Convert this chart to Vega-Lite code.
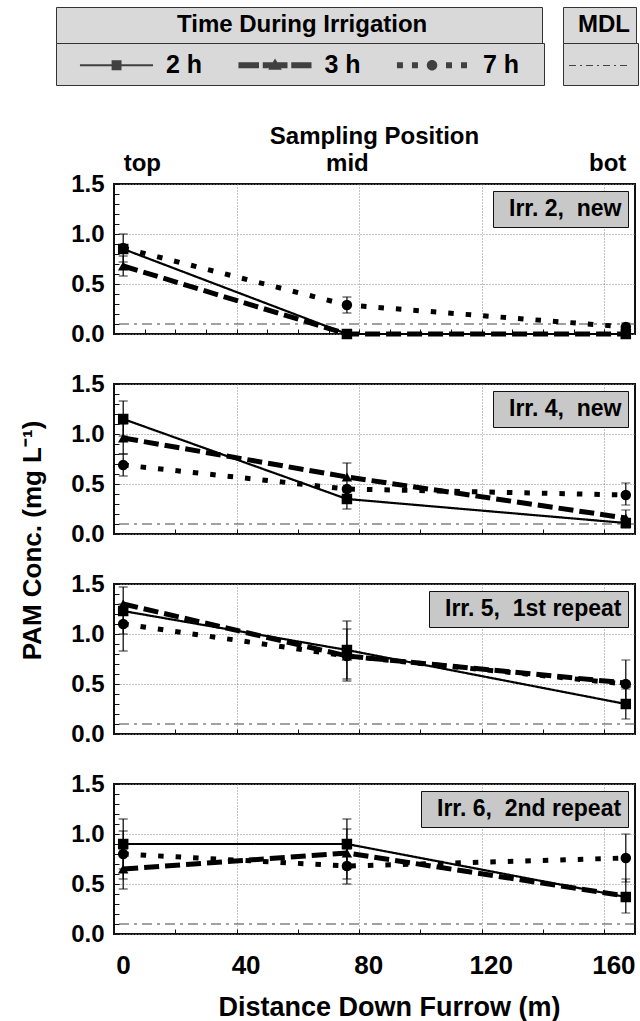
{
  "$schema": "https://vega.github.io/schema/vega-lite/v6.json",
  "padding": {"left": 18, "top": 5, "right": 0, "bottom": 0},
  "config": {
    "font": "Liberation Sans",
    "view": {"stroke": "#111", "strokeWidth": 2},
    "axis": {"labelColor": "#000", "titleColor": "#000", "tickColor": "#111", "labelOverlap": false}
  },
  "datasets": {
    "points": [
      {"irr": "Irr. 2, new", "series": "2 h", "pos": 3, "conc": 0.85},
      {"irr": "Irr. 2, new", "series": "2 h", "pos": 76, "conc": 0.0},
      {"irr": "Irr. 2, new", "series": "2 h", "pos": 167, "conc": 0.0},
      {"irr": "Irr. 2, new", "series": "3 h", "pos": 3, "conc": 0.68},
      {"irr": "Irr. 2, new", "series": "3 h", "pos": 76, "conc": 0.0},
      {"irr": "Irr. 2, new", "series": "3 h", "pos": 167, "conc": 0.0},
      {"irr": "Irr. 2, new", "series": "7 h", "pos": 3, "conc": 0.86},
      {"irr": "Irr. 2, new", "series": "7 h", "pos": 76, "conc": 0.29},
      {"irr": "Irr. 2, new", "series": "7 h", "pos": 167, "conc": 0.07},
      {"irr": "Irr. 4, new", "series": "2 h", "pos": 3, "conc": 1.15},
      {"irr": "Irr. 4, new", "series": "2 h", "pos": 76, "conc": 0.35},
      {"irr": "Irr. 4, new", "series": "2 h", "pos": 167, "conc": 0.11},
      {"irr": "Irr. 4, new", "series": "3 h", "pos": 3, "conc": 0.96},
      {"irr": "Irr. 4, new", "series": "3 h", "pos": 76, "conc": 0.57},
      {"irr": "Irr. 4, new", "series": "3 h", "pos": 167, "conc": 0.16},
      {"irr": "Irr. 4, new", "series": "7 h", "pos": 3, "conc": 0.69},
      {"irr": "Irr. 4, new", "series": "7 h", "pos": 76, "conc": 0.45},
      {"irr": "Irr. 4, new", "series": "7 h", "pos": 167, "conc": 0.39},
      {"irr": "Irr. 5, 1st repeat", "series": "2 h", "pos": 3, "conc": 1.23},
      {"irr": "Irr. 5, 1st repeat", "series": "2 h", "pos": 76, "conc": 0.84},
      {"irr": "Irr. 5, 1st repeat", "series": "2 h", "pos": 167, "conc": 0.30},
      {"irr": "Irr. 5, 1st repeat", "series": "3 h", "pos": 3, "conc": 1.30},
      {"irr": "Irr. 5, 1st repeat", "series": "3 h", "pos": 76, "conc": 0.78},
      {"irr": "Irr. 5, 1st repeat", "series": "3 h", "pos": 167, "conc": 0.51},
      {"irr": "Irr. 5, 1st repeat", "series": "7 h", "pos": 3, "conc": 1.10},
      {"irr": "Irr. 5, 1st repeat", "series": "7 h", "pos": 76, "conc": 0.78},
      {"irr": "Irr. 5, 1st repeat", "series": "7 h", "pos": 167, "conc": 0.50},
      {"irr": "Irr. 6, 2nd repeat", "series": "2 h", "pos": 3, "conc": 0.90},
      {"irr": "Irr. 6, 2nd repeat", "series": "2 h", "pos": 76, "conc": 0.90},
      {"irr": "Irr. 6, 2nd repeat", "series": "2 h", "pos": 167, "conc": 0.37},
      {"irr": "Irr. 6, 2nd repeat", "series": "3 h", "pos": 3, "conc": 0.65},
      {"irr": "Irr. 6, 2nd repeat", "series": "3 h", "pos": 76, "conc": 0.81},
      {"irr": "Irr. 6, 2nd repeat", "series": "3 h", "pos": 167, "conc": 0.38},
      {"irr": "Irr. 6, 2nd repeat", "series": "7 h", "pos": 3, "conc": 0.80},
      {"irr": "Irr. 6, 2nd repeat", "series": "7 h", "pos": 76, "conc": 0.68},
      {"irr": "Irr. 6, 2nd repeat", "series": "7 h", "pos": 167, "conc": 0.76}
    ],
    "errs": [
      {"irr": "Irr. 2, new", "series": "2 h", "pos": 3, "lo": 0.72, "hi": 1.0},
      {"irr": "Irr. 2, new", "series": "3 h", "pos": 3, "lo": 0.58, "hi": 0.78},
      {"irr": "Irr. 2, new", "series": "7 h", "pos": 76, "lo": 0.21, "hi": 0.37},
      {"irr": "Irr. 2, new", "series": "7 h", "pos": 167, "lo": 0.03, "hi": 0.11},
      {"irr": "Irr. 4, new", "series": "2 h", "pos": 3, "lo": 0.98, "hi": 1.33},
      {"irr": "Irr. 4, new", "series": "3 h", "pos": 3, "lo": 0.80, "hi": 1.10},
      {"irr": "Irr. 4, new", "series": "7 h", "pos": 3, "lo": 0.58, "hi": 0.80},
      {"irr": "Irr. 4, new", "series": "3 h", "pos": 76, "lo": 0.42, "hi": 0.71},
      {"irr": "Irr. 4, new", "series": "2 h", "pos": 76, "lo": 0.25, "hi": 0.45},
      {"irr": "Irr. 4, new", "series": "7 h", "pos": 167, "lo": 0.29, "hi": 0.51},
      {"irr": "Irr. 4, new", "series": "3 h", "pos": 167, "lo": 0.06, "hi": 0.24},
      {"irr": "Irr. 5, 1st repeat", "series": "2 h", "pos": 3, "lo": 1.0, "hi": 1.47},
      {"irr": "Irr. 5, 1st repeat", "series": "7 h", "pos": 3, "lo": 0.83, "hi": 1.30},
      {"irr": "Irr. 5, 1st repeat", "series": "2 h", "pos": 76, "lo": 0.55, "hi": 1.13},
      {"irr": "Irr. 5, 1st repeat", "series": "3 h", "pos": 76, "lo": 0.53, "hi": 1.05},
      {"irr": "Irr. 5, 1st repeat", "series": "7 h", "pos": 167, "lo": 0.28, "hi": 0.74},
      {"irr": "Irr. 5, 1st repeat", "series": "2 h", "pos": 167, "lo": 0.15, "hi": 0.45},
      {"irr": "Irr. 6, 2nd repeat", "series": "2 h", "pos": 3, "lo": 0.65, "hi": 1.15},
      {"irr": "Irr. 6, 2nd repeat", "series": "7 h", "pos": 3, "lo": 0.55, "hi": 1.03},
      {"irr": "Irr. 6, 2nd repeat", "series": "3 h", "pos": 3, "lo": 0.45, "hi": 0.85},
      {"irr": "Irr. 6, 2nd repeat", "series": "2 h", "pos": 76, "lo": 0.65, "hi": 1.15},
      {"irr": "Irr. 6, 2nd repeat", "series": "3 h", "pos": 76, "lo": 0.55, "hi": 1.05},
      {"irr": "Irr. 6, 2nd repeat", "series": "7 h", "pos": 76, "lo": 0.50, "hi": 0.85},
      {"irr": "Irr. 6, 2nd repeat", "series": "7 h", "pos": 167, "lo": 0.52, "hi": 1.0},
      {"irr": "Irr. 6, 2nd repeat", "series": "2 h", "pos": 167, "lo": 0.21, "hi": 0.55}
    ],
    "mdl": [{"label": "MDL", "mdl": 0.1}],
    "panels": [
      {"irr": "Irr. 2, new"},
      {"irr": "Irr. 4, new"},
      {"irr": "Irr. 5, 1st repeat"},
      {"irr": "Irr. 6, 2nd repeat"}
    ]
  },
  "bounds": "flush",
  "spacing": 50,
  "resolve": {"scale": {"color": "independent", "fill": "independent", "shape": "independent", "stroke": "independent", "strokeDash": "independent"}},
  "vconcat": [
    {
      "width": 521, "height": 150,
      "resolve": {"axis": {"x": "independent", "y": "independent"}},
      "layer": [
        {
          "data": {"name": "mdl"},
          "mark": {"type": "rule", "strokeDash": [10, 5, 3, 5], "strokeWidth": 1.2},
          "encoding": {
            "y": {"field": "mdl", "type": "quantitative", "axis": null, "scale": {"domain": [0, 1.5], "nice": false}},
            "color": {"field": "label", "type": "nominal", "scale": {"range": ["#444"]},
              "legend": {"orient": "none", "legendX": 449, "legendY": -141, "title": null,
                "labelExpr": "''", "labelOffset": 30, "labelFontSize": 25,
                "symbolType": "M-1.1,0H2.77", "symbolSize": 900, "symbolDash": [7, 4, 2, 4], "symbolStrokeWidth": 1.2,
                "symbolStrokeColor": "#444", "fillColor": "#d9d9d9", "strokeColor": "#333", "padding": 6.5}}
          }
        },
        {
          "data": {"name": "points"},
          "transform": [{"filter": "datum.irr === 'Irr. 2, new'"}],
          "mark": {"type": "line", "color": "#000"},
          "encoding": {
            "x": {"field": "pos", "type": "quantitative", "scale": {"domain": [0, 170], "nice": false},
              "axis": {"values": [0,10,20,30,40,50,60,70,80,90,100,110,120,130,140,150,160,170], "labels": false, "title": null,
                "tickSize": -5, "domain": false, "grid": true, "gridColor": "#888", "gridDash": [1, 2],
                "gridOpacity": {"condition": {"test": "datum.value % 40 === 0 && datum.value > 0 && datum.value < 170", "value": 1}, "value": 0}}},
            "y": {"field": "conc", "type": "quantitative", "scale": {"domain": [0, 1.5], "nice": false},
              "axis": {"orient": "left", "tickCount": 3, "format": ".1f",
                "labelFontSize": 24, "labelFontWeight": "bold", "labelPadding": 15, "labelFlush": false,
                "tickSize": -5, "domain": false, "grid": true, "gridColor": "#888", "gridDash": [1, 2], "title": null}},
            "detail": {"field": "series"},
            "strokeDash": {"condition": [{"test": "datum.series === '2 h'", "value": [1, 0]}, {"test": "datum.series === '3 h'", "value": [15, 6]}], "value": [5.5, 12]},
            "strokeWidth": {"condition": {"test": "datum.series === '2 h'", "value": 2.2}, "value": 5}
          }
        },
        {
          "data": {"name": "errs"},
          "transform": [{"filter": "datum.irr === 'Irr. 2, new'"}],
          "mark": {"type": "errorbar", "color": "#000", "thickness": 1.2, "size": 9, "ticks": true},
          "encoding": {
            "x": {"field": "pos", "type": "quantitative", "scale": {"domain": [0, 170], "nice": false}, "axis": null},
            "y": {"field": "lo", "type": "quantitative", "axis": null, "scale": {"domain": [0, 1.5], "nice": false}},
            "y2": {"field": "hi"}
          }
        },
        {
          "data": {"name": "points"},
          "transform": [{"filter": "datum.irr === 'Irr. 2, new'"}],
          "mark": {"type": "point", "filled": true, "opacity": 1, "size": 110, "color": "#000"},
          "encoding": {
            "x": {"field": "pos", "type": "quantitative", "scale": {"domain": [0, 170], "nice": false}, "axis": null},
            "y": {"field": "conc", "type": "quantitative", "scale": {"domain": [0, 1.5], "nice": false},
              "axis": {"orient": "left", "tickCount": 15, "labels": false, "grid": false, "tickSize": -5, "domain": false, "title": null}},
            "order": {"field": "series", "sort": "descending"},
            "shape": {"condition": [{"test": "datum.series === '2 h'", "value": "square"}, {"test": "datum.series === '3 h'", "value": "triangle-up"}], "value": "circle"}
          }
        },
        {
          "data": {"name": "panels"},
          "transform": [{"filter": "datum.irr === 'Irr. 2, new'"}],
          "mark": {"type": "point", "opacity": 0},
          "encoding": {
            "fill": {"field": "irr", "type": "nominal",
              "legend": {"orient": "top-right", "offset": 7, "title": null, "fillColor": "#c8c8c8", "strokeColor": "#111", "padding": 6,
                "labelFontSize": 23, "labelFontWeight": "bold", "labelColor": "#000", "labelOffset": -13, "labelLimit": 400,
                "labelExpr": "replace(datum.label, ', ', ',\u00a0 ')",
                "symbolSize": 1, "symbolOpacity": 0, "symbolStrokeWidth": 0}}
          }
        },
        {
          "data": {"name": "points"},
          "transform": [{"filter": "false"}],
          "mark": {"type": "point", "color": "transparent"},
          "encoding": {
            "stroke": {"field": "hdr", "type": "nominal", "scale": {"domain": ["Time During Irrigation"], "range": ["transparent"]},
              "legend": {"orient": "none", "legendX": -58, "legendY": -177, "title": null,
                "labelFontSize": 24, "labelFontWeight": "bold", "labelColor": "#000", "labelOffset": 91, "labelLimit": 700,
                "labelExpr": "datum.label + '\u2800\u2800\u2800\u2800\u2800\u2800'",
                "symbolSize": 1, "symbolOpacity": 0, "symbolStrokeWidth": 0,
                "fillColor": "#d9d9d9", "strokeColor": "#333", "padding": 6}}
          }
        },
        {
          "data": {"name": "points"},
          "transform": [{"filter": "false"}],
          "mark": {"type": "point", "color": "transparent"},
          "encoding": {
            "strokeDash": {"field": "hdr2", "type": "nominal", "scale": {"domain": ["MDL"], "range": [[1, 0]]},
              "legend": {"orient": "none", "legendX": 449, "legendY": -177, "title": null,
                "labelFontSize": 24, "labelFontWeight": "bold", "labelColor": "#000", "labelOffset": -15, "labelLimit": 300,
                "symbolSize": 1, "symbolOpacity": 0, "symbolStrokeWidth": 0,
                "fillColor": "#d9d9d9", "strokeColor": "#333", "padding": 6}}
          }
        },
        {
          "data": {"name": "points"},
          "transform": [{"filter": "false"}],
          "mark": {"type": "point", "filled": true, "color": "#000"},
          "encoding": {
            "x": {"field": "pos", "type": "quantitative", "scale": {"domain": [0, 170], "nice": false},
              "axis": {"orient": "top", "values": [3, 76, 167], "labelExpr": "datum.value < 10 ? 'top' : (datum.value < 100 ? 'mid' : 'bot')",
                "labelFlush": 15, "labelFontSize": 24, "labelFontWeight": "bold", "labelPadding": 9, "ticks": false, "domain": false, "grid": false,
                "title": "Sampling Position", "titleFontSize": 24, "titleFontWeight": "bold", "titleX": 260, "titleY": -41, "titleBaseline": "alphabetic"}},
            "y": {"field": "conc", "type": "quantitative", "axis": null, "scale": {"domain": [0, 1.5], "nice": false}},
            "shape": {"field": "series", "type": "nominal",
              "scale": {"domain": ["2 h", "3 h", "7 h"], "range": [
                "M0.13,-0.07H5V0.07H0.13Z M2.24,-0.33H2.9V0.33H2.24Z",
                "M0.13,-0.2H1.5V0.2H0.13Z M1.75,-0.2H3.4V0.2H1.75Z M3.65,-0.2H5V0.2H3.65Z M2.57,-0.45L3.02,0.3H2.12Z",
                "M0.13,-0.2H0.53V0.2H0.13Z M1.13,-0.2H1.53V0.2H1.13Z M3.4,-0.2H3.8V0.2H3.4Z M4.4,-0.2H4.8V0.2H4.4Z M2.12,0A0.35,0.35 0 1,1 2.82,0A0.35,0.35 0 1,1 2.12,0Z"]},
              "legend": {"orient": "none", "legendX": -58, "legendY": -141, "title": null,
                "direction": "horizontal", "columns": 3, "columnPadding": 18.5,
                "labelFontSize": 25, "labelFontWeight": "bold", "labelColor": "#000", "labelOffset": 72.5,
                "labelExpr": "datum.label === '7 h' ? datum.label + '\u2800' : datum.label",
                "symbolSize": 900, "symbolFillColor": "#000", "symbolStrokeColor": "#000", "symbolStrokeWidth": 1,
                "fillColor": "#d9d9d9", "strokeColor": "#333", "padding": 6.5}}
          }
        }
      ]
    },
    {
      "width": 521, "height": 150,
      "resolve": {"axis": {"y": "independent"}},
      "layer": [
        {
          "data": {"name": "mdl"},
          "mark": {"type": "rule", "strokeDash": [10, 5, 3, 5], "strokeWidth": 1.2},
          "encoding": {
            "y": {"field": "mdl", "type": "quantitative", "axis": null, "scale": {"domain": [0, 1.5], "nice": false}},
            "color": {"field": "label", "type": "nominal", "scale": {"range": ["#444"]}, "legend": null}
          }
        },
        {
          "data": {"name": "points"},
          "transform": [{"filter": "datum.irr === 'Irr. 4, new'"}],
          "mark": {"type": "line", "color": "#000"},
          "encoding": {
            "x": {"field": "pos", "type": "quantitative", "scale": {"domain": [0, 170], "nice": false},
              "axis": {"values": [0,10,20,30,40,50,60,70,80,90,100,110,120,130,140,150,160,170], "labels": false, "title": null,
                "tickSize": -5, "domain": false, "grid": true, "gridColor": "#888", "gridDash": [1, 2],
                "gridOpacity": {"condition": {"test": "datum.value % 40 === 0 && datum.value > 0 && datum.value < 170", "value": 1}, "value": 0}}},
            "y": {"field": "conc", "type": "quantitative", "scale": {"domain": [0, 1.5], "nice": false},
              "axis": {"orient": "left", "tickCount": 3, "format": ".1f",
                "labelFontSize": 24, "labelFontWeight": "bold", "labelPadding": 15, "labelFlush": false,
                "tickSize": -5, "domain": false, "grid": true, "gridColor": "#888", "gridDash": [1, 2],
                "title": "PAM Conc. (mg L⁻¹)", "titleFontSize": 26, "titleFontWeight": "bold", "titleX": -74, "titleY": 156,
                "titleAngle": -90, "titleBaseline": "alphabetic", "titleAlign": "center"}},
            "detail": {"field": "series"},
            "strokeDash": {"condition": [{"test": "datum.series === '2 h'", "value": [1, 0]}, {"test": "datum.series === '3 h'", "value": [15, 6]}], "value": [5.5, 12]},
            "strokeWidth": {"condition": {"test": "datum.series === '2 h'", "value": 2.2}, "value": 5}
          }
        },
        {
          "data": {"name": "errs"},
          "transform": [{"filter": "datum.irr === 'Irr. 4, new'"}],
          "mark": {"type": "errorbar", "color": "#000", "thickness": 1.2, "size": 9, "ticks": true},
          "encoding": {
            "x": {"field": "pos", "type": "quantitative", "title": null, "scale": {"domain": [0, 170], "nice": false}},
            "y": {"field": "lo", "type": "quantitative", "axis": null, "scale": {"domain": [0, 1.5], "nice": false}},
            "y2": {"field": "hi"}
          }
        },
        {
          "data": {"name": "points"},
          "transform": [{"filter": "datum.irr === 'Irr. 4, new'"}],
          "mark": {"type": "point", "filled": true, "opacity": 1, "size": 110, "color": "#000"},
          "encoding": {
            "x": {"field": "pos", "type": "quantitative", "title": null, "scale": {"domain": [0, 170], "nice": false}},
            "y": {"field": "conc", "type": "quantitative", "scale": {"domain": [0, 1.5], "nice": false},
              "axis": {"orient": "left", "tickCount": 15, "labels": false, "grid": false, "tickSize": -5, "domain": false, "title": null}},
            "order": {"field": "series", "sort": "descending"},
            "shape": {"condition": [{"test": "datum.series === '2 h'", "value": "square"}, {"test": "datum.series === '3 h'", "value": "triangle-up"}], "value": "circle"}
          }
        },
        {
          "data": {"name": "panels"},
          "transform": [{"filter": "datum.irr === 'Irr. 4, new'"}],
          "mark": {"type": "point", "opacity": 0},
          "encoding": {
            "fill": {"field": "irr", "type": "nominal",
              "legend": {"orient": "top-right", "offset": 7, "title": null, "fillColor": "#c8c8c8", "strokeColor": "#111", "padding": 6,
                "labelFontSize": 23, "labelFontWeight": "bold", "labelColor": "#000", "labelOffset": -13, "labelLimit": 400,
                "labelExpr": "replace(datum.label, ', ', ',\u00a0 ')",
                "symbolSize": 1, "symbolOpacity": 0, "symbolStrokeWidth": 0}}
          }
        }
      ]
    },
    {
      "width": 521, "height": 150,
      "resolve": {"axis": {"y": "independent"}},
      "layer": [
        {
          "data": {"name": "mdl"},
          "mark": {"type": "rule", "strokeDash": [10, 5, 3, 5], "strokeWidth": 1.2},
          "encoding": {
            "y": {"field": "mdl", "type": "quantitative", "axis": null, "scale": {"domain": [0, 1.5], "nice": false}},
            "color": {"field": "label", "type": "nominal", "scale": {"range": ["#444"]}, "legend": null}
          }
        },
        {
          "data": {"name": "points"},
          "transform": [{"filter": "datum.irr === 'Irr. 5, 1st repeat'"}],
          "mark": {"type": "line", "color": "#000"},
          "encoding": {
            "x": {"field": "pos", "type": "quantitative", "scale": {"domain": [0, 170], "nice": false},
              "axis": {"values": [0,10,20,30,40,50,60,70,80,90,100,110,120,130,140,150,160,170], "labels": false, "title": null,
                "tickSize": -5, "domain": false, "grid": true, "gridColor": "#888", "gridDash": [1, 2],
                "gridOpacity": {"condition": {"test": "datum.value % 40 === 0 && datum.value > 0 && datum.value < 170", "value": 1}, "value": 0}}},
            "y": {"field": "conc", "type": "quantitative", "scale": {"domain": [0, 1.5], "nice": false},
              "axis": {"orient": "left", "tickCount": 3, "format": ".1f",
                "labelFontSize": 24, "labelFontWeight": "bold", "labelPadding": 15, "labelFlush": false,
                "tickSize": -5, "domain": false, "grid": true, "gridColor": "#888", "gridDash": [1, 2], "title": null}},
            "detail": {"field": "series"},
            "strokeDash": {"condition": [{"test": "datum.series === '2 h'", "value": [1, 0]}, {"test": "datum.series === '3 h'", "value": [15, 6]}], "value": [5.5, 12]},
            "strokeWidth": {"condition": {"test": "datum.series === '2 h'", "value": 2.2}, "value": 5}
          }
        },
        {
          "data": {"name": "errs"},
          "transform": [{"filter": "datum.irr === 'Irr. 5, 1st repeat'"}],
          "mark": {"type": "errorbar", "color": "#000", "thickness": 1.2, "size": 9, "ticks": true},
          "encoding": {
            "x": {"field": "pos", "type": "quantitative", "title": null, "scale": {"domain": [0, 170], "nice": false}},
            "y": {"field": "lo", "type": "quantitative", "axis": null, "scale": {"domain": [0, 1.5], "nice": false}},
            "y2": {"field": "hi"}
          }
        },
        {
          "data": {"name": "points"},
          "transform": [{"filter": "datum.irr === 'Irr. 5, 1st repeat'"}],
          "mark": {"type": "point", "filled": true, "opacity": 1, "size": 110, "color": "#000"},
          "encoding": {
            "x": {"field": "pos", "type": "quantitative", "title": null, "scale": {"domain": [0, 170], "nice": false}},
            "y": {"field": "conc", "type": "quantitative", "scale": {"domain": [0, 1.5], "nice": false},
              "axis": {"orient": "left", "tickCount": 15, "labels": false, "grid": false, "tickSize": -5, "domain": false, "title": null}},
            "order": {"field": "series", "sort": "descending"},
            "shape": {"condition": [{"test": "datum.series === '2 h'", "value": "square"}, {"test": "datum.series === '3 h'", "value": "triangle-up"}], "value": "circle"}
          }
        },
        {
          "data": {"name": "panels"},
          "transform": [{"filter": "datum.irr === 'Irr. 5, 1st repeat'"}],
          "mark": {"type": "point", "opacity": 0},
          "encoding": {
            "fill": {"field": "irr", "type": "nominal",
              "legend": {"orient": "top-right", "offset": 7, "title": null, "fillColor": "#c8c8c8", "strokeColor": "#111", "padding": 6,
                "labelFontSize": 23, "labelFontWeight": "bold", "labelColor": "#000", "labelOffset": -13, "labelLimit": 400,
                "labelExpr": "replace(datum.label, ', ', ',\u00a0 ')",
                "symbolSize": 1, "symbolOpacity": 0, "symbolStrokeWidth": 0}}
          }
        }
      ]
    },
    {
      "width": 521, "height": 150,
      "resolve": {"axis": {"y": "independent"}},
      "layer": [
        {
          "data": {"name": "mdl"},
          "mark": {"type": "rule", "strokeDash": [10, 5, 3, 5], "strokeWidth": 1.2},
          "encoding": {
            "y": {"field": "mdl", "type": "quantitative", "axis": null, "scale": {"domain": [0, 1.5], "nice": false}},
            "color": {"field": "label", "type": "nominal", "scale": {"range": ["#444"]}, "legend": null}
          }
        },
        {
          "data": {"name": "points"},
          "transform": [{"filter": "datum.irr === 'Irr. 6, 2nd repeat'"}],
          "mark": {"type": "line", "color": "#000"},
          "encoding": {
            "x": {"field": "pos", "type": "quantitative", "title": "Distance Down Furrow (m)", "scale": {"domain": [0, 170], "nice": false},
              "axis": {"values": [0,10,20,30,40,50,60,70,80,90,100,110,120,130,140,150,160,170],
                "labelExpr": "datum.value % 40 === 0 && datum.value <= 160 ? datum.label : ''",
                "labelFontSize": 26, "labelFontWeight": "bold", "labelOffset": 9, "labelPadding": 23, "labelFlush": false, "labelOverlap": false,
                "tickSize": -5, "domain": false, "grid": true, "gridColor": "#888", "gridDash": [1, 2],
                "gridOpacity": {"condition": {"test": "datum.value % 40 === 0 && datum.value > 0 && datum.value < 170", "value": 1}, "value": 0},
                "title": "Distance Down Furrow (m)", "titleFontSize": 27, "titleFontWeight": "bold", "titleX": 275, "titleY": 81, "titleBaseline": "alphabetic"}},
            "y": {"field": "conc", "type": "quantitative", "scale": {"domain": [0, 1.5], "nice": false},
              "axis": {"orient": "left", "tickCount": 3, "format": ".1f",
                "labelFontSize": 24, "labelFontWeight": "bold", "labelPadding": 15, "labelFlush": false,
                "tickSize": -5, "domain": false, "grid": true, "gridColor": "#888", "gridDash": [1, 2], "title": null}},
            "detail": {"field": "series"},
            "strokeDash": {"condition": [{"test": "datum.series === '2 h'", "value": [1, 0]}, {"test": "datum.series === '3 h'", "value": [15, 6]}], "value": [5.5, 12]},
            "strokeWidth": {"condition": {"test": "datum.series === '2 h'", "value": 2.2}, "value": 5}
          }
        },
        {
          "data": {"name": "errs"},
          "transform": [{"filter": "datum.irr === 'Irr. 6, 2nd repeat'"}],
          "mark": {"type": "errorbar", "color": "#000", "thickness": 1.2, "size": 9, "ticks": true},
          "encoding": {
            "x": {"field": "pos", "type": "quantitative", "title": "Distance Down Furrow (m)", "scale": {"domain": [0, 170], "nice": false}},
            "y": {"field": "lo", "type": "quantitative", "axis": null, "scale": {"domain": [0, 1.5], "nice": false}},
            "y2": {"field": "hi"}
          }
        },
        {
          "data": {"name": "points"},
          "transform": [{"filter": "datum.irr === 'Irr. 6, 2nd repeat'"}],
          "mark": {"type": "point", "filled": true, "opacity": 1, "size": 110, "color": "#000"},
          "encoding": {
            "x": {"field": "pos", "type": "quantitative", "title": "Distance Down Furrow (m)", "scale": {"domain": [0, 170], "nice": false}},
            "y": {"field": "conc", "type": "quantitative", "scale": {"domain": [0, 1.5], "nice": false},
              "axis": {"orient": "left", "tickCount": 15, "labels": false, "grid": false, "tickSize": -5, "domain": false, "title": null}},
            "order": {"field": "series", "sort": "descending"},
            "shape": {"condition": [{"test": "datum.series === '2 h'", "value": "square"}, {"test": "datum.series === '3 h'", "value": "triangle-up"}], "value": "circle"}
          }
        },
        {
          "data": {"name": "panels"},
          "transform": [{"filter": "datum.irr === 'Irr. 6, 2nd repeat'"}],
          "mark": {"type": "point", "opacity": 0},
          "encoding": {
            "fill": {"field": "irr", "type": "nominal",
              "legend": {"orient": "top-right", "offset": 7, "title": null, "fillColor": "#c8c8c8", "strokeColor": "#111", "padding": 6,
                "labelFontSize": 23, "labelFontWeight": "bold", "labelColor": "#000", "labelOffset": -13, "labelLimit": 400,
                "labelExpr": "replace(datum.label, ', ', ',\u00a0 ')",
                "symbolSize": 1, "symbolOpacity": 0, "symbolStrokeWidth": 0}}
          }
        }
      ]
    }
  ]
}
